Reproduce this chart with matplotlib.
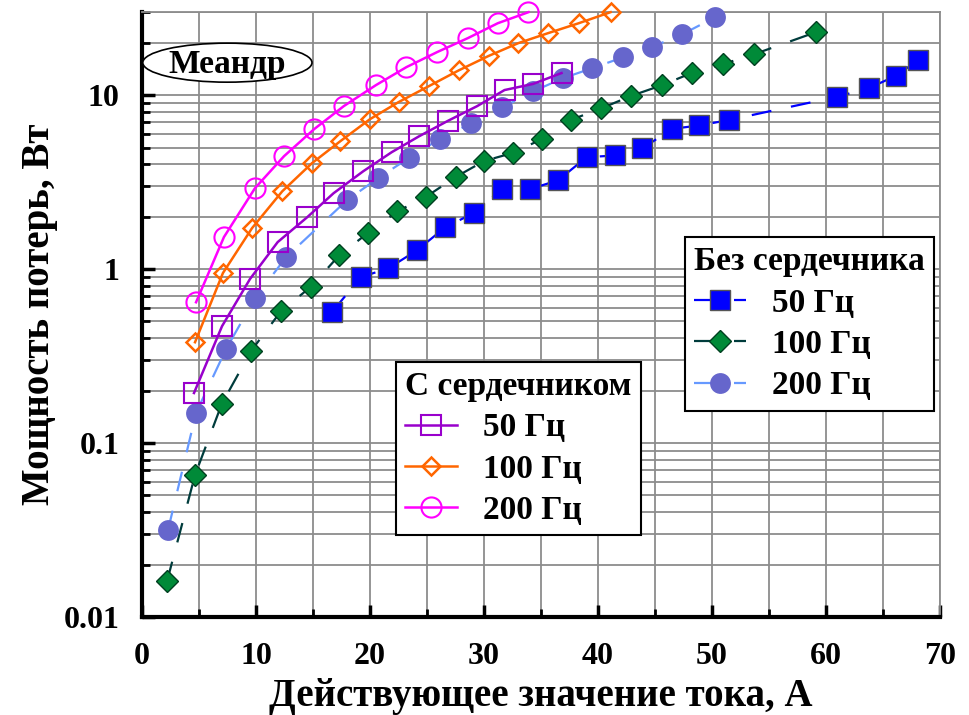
import matplotlib
matplotlib.use("Agg")
import matplotlib.pyplot as plt
from matplotlib.patches import Ellipse
from matplotlib.ticker import MultipleLocator, LogLocator, FixedLocator, FixedFormatter, NullFormatter

plt.rcParams['font.family'] = ['Liberation Serif', 'DejaVu Serif']
plt.rcParams['font.weight'] = 'bold'

# Без сердечника (without core)
x_nc50 = [16.7, 19.2, 21.6, 24.1, 26.6, 29.1, 31.6, 34.0, 36.5, 39.0, 41.5, 43.9, 46.5, 48.9, 51.5, 61.0, 63.8, 66.1, 68.1]
p_nc50 = [0.57, 0.90, 1.01, 1.28, 1.74, 2.1, 2.88, 2.88, 3.24, 4.4, 4.5, 4.95, 6.4, 6.7, 7.2, 9.8, 11.0, 12.9, 15.9]

x_nc100 = [2.2, 4.65, 7.0, 9.56, 12.2, 14.8, 17.3, 19.8, 22.4, 24.9, 27.5, 30.0, 32.5, 35.1, 37.6, 40.3, 42.9, 45.6, 48.2, 51.0, 53.7, 59.1]
p_nc100 = [0.0161, 0.0655, 0.168, 0.338, 0.574, 0.79, 1.2, 1.61, 2.15, 2.6, 3.38, 4.18, 4.65, 5.6, 7.2, 8.4, 9.9, 11.4, 13.4, 15.1, 17.2, 23.0]

x_nc200 = [2.28, 4.74, 7.37, 9.91, 12.63, 17.98, 20.7, 23.4, 26.1, 28.9, 31.6, 34.3, 36.9, 39.5, 42.2, 44.7, 47.4, 50.3]
p_nc200 = [0.0316, 0.149, 0.347, 0.68, 1.17, 2.49, 3.33, 4.35, 5.59, 6.9, 8.5, 10.5, 12.5, 14.3, 16.5, 18.9, 22.4, 28.1]

# С сердечником (with core)
x_c50 = [4.56, 7.02, 9.47, 11.9, 14.5, 16.8, 19.4, 21.9, 24.3, 26.8, 29.4, 31.8, 34.3, 36.8]
p_c50 = [0.194, 0.47, 0.877, 1.43, 1.99, 2.73, 3.65, 4.7, 5.8, 7.1, 8.65, 10.7, 11.6, 13.4]

x_c100 = [4.65, 7.1, 9.65, 12.3, 14.9, 17.4, 20.0, 22.5, 25.2, 27.8, 30.4, 33.0, 35.6, 38.3, 41.1]
p_c100 = [0.38, 0.95, 1.72, 2.8, 4.06, 5.44, 7.28, 9.12, 11.3, 13.9, 16.8, 19.9, 22.7, 25.9, 30.0]

x_c200 = [4.74, 7.19, 9.91, 12.46, 15.1, 17.7, 20.5, 23.2, 25.9, 28.6, 31.2, 33.9]
p_c200 = [0.645, 1.53, 2.92, 4.46, 6.38, 8.65, 11.4, 14.5, 17.7, 21.3, 25.9, 30.0]

ytick_vals = [0.01, 0.1, 1, 10]
ytick_labels = ['0.01', '0.1', '1', '10']

fig = plt.figure(figsize=(9.7, 7.15), dpi=100)
ax = fig.add_axes([0.1464, 0.137, 0.8227, 0.846])

dash = (0, (9, 9))
# without core - dashed lines, filled markers
l_nc50, = ax.plot(x_nc50, p_nc50, color='#0000ff', lw=1.6, ls=dash, marker='s', ms=15,
                  mfc='#0000ff', mec='#555555', mew=1, clip_on=False, zorder=4)
l_nc100, = ax.plot(x_nc100, p_nc100, color='#003c3c', lw=1.6, ls=dash, marker='D', ms=11,
                   mfc='#008a38', mec='#004020', mew=1, clip_on=False, zorder=4)
l_nc200, = ax.plot(x_nc200, p_nc200, color='#6699ff', lw=1.6, ls=dash, marker='o', ms=15,
                   mfc='#6666cc', mec='#6666cc', mew=0, clip_on=False, zorder=4)

# with core - solid lines, open markers
l_c50, = ax.plot(x_c50, p_c50, color='#9900cc', lw=1.8, marker='s', ms=14.5,
                 mfc='none', mec='#9900cc', mew=1.5, clip_on=False, zorder=5)
l_c100, = ax.plot(x_c100, p_c100, color='#ff6600', lw=1.8, marker='D', ms=8.8,
                  mfc='none', mec='#ff6600', mew=1.8, clip_on=False, zorder=5)
l_c200, = ax.plot(x_c200, p_c200, color='#ff00ff', lw=1.8, marker='o', ms=14.5,
                  mfc='none', mec='#ff00ff', mew=1.5, clip_on=False, zorder=5)

ax.set_yscale('log')
ax.set_xlim(0, 70)
ax.set_ylim(0.01, 30)

ax.xaxis.set_major_locator(MultipleLocator(10))
ax.xaxis.set_minor_locator(MultipleLocator(5))
ax.yaxis.set_major_locator(FixedLocator(ytick_vals))
ax.yaxis.set_major_formatter(FixedFormatter(ytick_labels))
ax.yaxis.set_minor_locator(LogLocator(base=10, subs=range(2, 10)))
ax.yaxis.set_minor_formatter(NullFormatter())

ax.grid(True, which='both', color='#8c8c8c', lw=1.3)
ax.set_axisbelow(True)

for s in ['left', 'bottom']:
    ax.spines[s].set_linewidth(3)
    ax.spines[s].set_color('black')
for s in ['top', 'right']:
    ax.spines[s].set_linewidth(1.3)
    ax.spines[s].set_color('#8c8c8c')

ax.tick_params(axis='both', which='major', direction='in', length=9, width=2.5, labelsize=23)
ax.tick_params(axis='both', which='minor', direction='in', length=6, width=2)
ax.tick_params(axis='x', which='major', pad=18)
ax.tick_params(axis='y', which='major', pad=16)

ax.set_xlabel('Действующее значение тока, А', fontsize=28, fontweight='bold', labelpad=5)
ax.set_ylabel('Мощность потерь, Вт', fontsize=28, fontweight='bold', labelpad=4)

# "Меандр" label in ellipse
ell = Ellipse((0.107, 0.9165), 0.212, 0.0645, transform=ax.transAxes,
              fc='white', ec='black', lw=1.2, zorder=6, clip_on=False)
ax.add_patch(ell)
ax.text(0.107, 0.913, 'Меандр', transform=ax.transAxes, ha='center', va='center',
        fontsize=24, fontweight='bold', zorder=7)

leg_kw = dict(frameon=True, fancybox=False, framealpha=1, edgecolor='black',
              prop={'size': 24, 'weight': 'bold'},
              title_fontproperties={'size': 24, 'weight': 'bold'},
              handlelength=1.56, handletextpad=0.78, labelspacing=0.31,
              borderpad=0.28, borderaxespad=0, loc='upper left',
              bbox_transform=fig.transFigure, numpoints=1)

leg1 = ax.legend([l_c50, l_c100, l_c200], ['50 Гц', '100 Гц', '200 Гц'],
                 title='С сердечником', bbox_to_anchor=(0.408, 0.494), **leg_kw)
leg1.get_frame().set_linewidth(1.5)
leg1._legend_box.align = 'left'
ax.add_artist(leg1)

leg2 = ax.legend([l_nc50, l_nc100, l_nc200], ['50 Гц', '100 Гц', '200 Гц'],
                 title='Без сердечника', bbox_to_anchor=(0.706, 0.6685), **leg_kw)
leg2.get_frame().set_linewidth(1.5)
leg2._legend_box.align = 'left'

fig.savefig('out.png', dpi=100)
